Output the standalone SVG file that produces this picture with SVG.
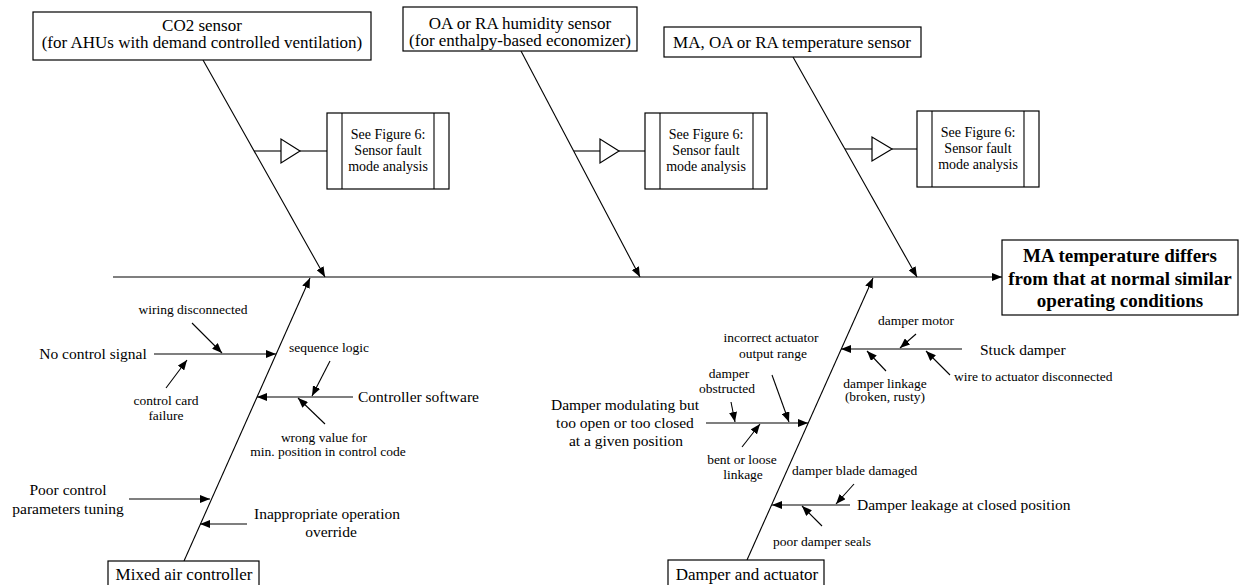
<svg xmlns="http://www.w3.org/2000/svg" width="1241" height="585" viewBox="0 0 1241 585">
  <defs>
    <marker id="arr" markerUnits="userSpaceOnUse" markerWidth="11" markerHeight="8" refX="10" refY="4" orient="auto">
      <path d="M0,0 L10,4 L0,8 z" fill="#000"/>
    </marker>
    <style>
      .ln { stroke: #000; stroke-width: 1.1; fill: none; }
      .ar { stroke: #000; stroke-width: 1.1; fill: none; marker-end: url(#arr); }
      .box { fill: #fff; stroke: #000; stroke-width: 1.2; }
      text { font-family: 'Liberation Serif', 'Times New Roman', serif; fill: #000; text-anchor: middle; }
      .big { font-size: 17px; }
      .mid { font-size: 15.5px; }
      .sm { font-size: 13.5px; }
      .ref { font-size: 14px; }
      .eff { font-size: 19px; font-weight: bold; }
      .lft { text-anchor: start; }
    </style>
  </defs>
  <rect width="1241" height="585" fill="#fff"/>

  <!-- spine, bones and cause arrows -->
  <g id="connectors">
    <line class="ar" x1="113" y1="277" x2="1002" y2="277"/>
    <!-- upper bones -->
    <line class="ar" x1="203" y1="60" x2="325" y2="277"/>
    <line class="ar" x1="521" y1="51" x2="640" y2="277"/>
    <line class="ar" x1="793" y1="57" x2="917" y2="277"/>
    <!-- lower bones -->
    <line class="ar" x1="184" y1="561" x2="310" y2="278"/>
    <line class="ar" x1="747" y1="560" x2="873" y2="278"/>

    <!-- sensor fault references -->
    <line class="ln" x1="254" y1="151" x2="281" y2="151"/>
    <polygon class="box" points="281,139 281,163 300,151"/>
    <line class="ln" x1="300" y1="151" x2="327" y2="151"/>
    <line class="ln" x1="574" y1="151" x2="600" y2="151"/>
    <polygon class="box" points="600,139 600,163 619,151"/>
    <line class="ln" x1="619" y1="151" x2="645" y2="151"/>
    <line class="ln" x1="845" y1="149" x2="872" y2="149"/>
    <polygon class="box" points="872,137 872,161 892,149"/>
    <line class="ln" x1="892" y1="149" x2="917" y2="149"/>

    <!-- mixed air controller causes -->
    <line class="ar" x1="154" y1="354" x2="276" y2="354"/>
    <line class="ar" x1="192" y1="323" x2="222" y2="353"/>
    <line class="ar" x1="166" y1="388" x2="187" y2="360"/>
    <line class="ar" x1="353" y1="397" x2="257" y2="397"/>
    <line class="ar" x1="330" y1="361" x2="312" y2="396"/>
    <line class="ar" x1="325" y1="424" x2="298" y2="398"/>
    <line class="ar" x1="129" y1="499" x2="210" y2="499"/>
    <line class="ar" x1="247" y1="524" x2="200" y2="524"/>

    <!-- damper and actuator causes -->
    <line class="ar" x1="962" y1="349" x2="841" y2="349"/>
    <line class="ar" x1="916" y1="334" x2="900" y2="348"/>
    <line class="ar" x1="886" y1="371" x2="867" y2="351"/>
    <line class="ar" x1="950" y1="375" x2="926" y2="351"/>
    <line class="ar" x1="706" y1="423" x2="808" y2="423"/>
    <line class="ar" x1="772" y1="375" x2="789" y2="422"/>
    <line class="ar" x1="731" y1="402" x2="735" y2="422"/>
    <line class="ar" x1="742" y1="447" x2="760" y2="424"/>
    <line class="ar" x1="850" y1="505" x2="772" y2="505"/>
    <line class="ar" x1="854" y1="484" x2="836" y2="504"/>
    <line class="ar" x1="822" y1="526" x2="802" y2="506"/>
  </g>

  <g id="co2-sensor">
    <rect class="box" x="33" y="12" width="338" height="48"/>
    <text class="big" x="202" y="31">CO2 sensor</text>
    <text class="big" x="202" y="48">(for AHUs with demand controlled ventilation)</text>
  </g>
  <g id="humidity-sensor">
    <rect class="box" x="403" y="7" width="234" height="44"/>
    <text class="big" x="520" y="29">OA or RA humidity sensor</text>
    <text class="big" x="520" y="46">(for enthalpy-based economizer)</text>
  </g>
  <g id="temperature-sensor">
    <rect class="box" x="664" y="27" width="257" height="30"/>
    <text class="big" x="792" y="48">MA, OA or RA temperature sensor</text>
  </g>

  <g id="sensor-ref-1">
    <rect class="box" x="327" y="113" width="122" height="76"/>
    <line class="ln" x1="342" y1="113" x2="342" y2="189"/>
    <line class="ln" x1="434" y1="113" x2="434" y2="189"/>
    <text class="ref" x="388" y="139">See Figure 6:</text>
    <text class="ref" x="388" y="155">Sensor fault</text>
    <text class="ref" x="388" y="171">mode analysis</text>
  </g>
  <g id="sensor-ref-2">
    <rect class="box" x="645" y="113" width="122" height="76"/>
    <line class="ln" x1="660" y1="113" x2="660" y2="189"/>
    <line class="ln" x1="753" y1="113" x2="753" y2="189"/>
    <text class="ref" x="706" y="139">See Figure 6:</text>
    <text class="ref" x="706" y="155">Sensor fault</text>
    <text class="ref" x="706" y="171">mode analysis</text>
  </g>
  <g id="sensor-ref-3">
    <rect class="box" x="917" y="111" width="122" height="76"/>
    <line class="ln" x1="932" y1="111" x2="932" y2="187"/>
    <line class="ln" x1="1024" y1="111" x2="1024" y2="187"/>
    <text class="ref" x="978" y="137">See Figure 6:</text>
    <text class="ref" x="978" y="153">Sensor fault</text>
    <text class="ref" x="978" y="169">mode analysis</text>
  </g>

  <g id="effect">
    <rect class="box" x="1002" y="240" width="236" height="75"/>
    <text class="eff" x="1120" y="262">MA temperature differs</text>
    <text class="eff" x="1120" y="285">from that at normal similar</text>
    <text class="eff" x="1120" y="307">operating conditions</text>
  </g>

  <g id="mixed-air-controller">
    <rect class="box" x="108" y="561" width="151" height="30"/>
    <text class="big" x="184" y="580">Mixed air controller</text>
  </g>
  <g id="mac-causes">
    <text class="mid" x="93" y="359">No control signal</text>
    <text class="sm" x="193" y="313.5">wiring disconnected</text>
    <text class="sm" x="166" y="404.5">control card</text>
    <text class="sm" x="166" y="420">failure</text>
    <text class="sm" x="329" y="351.5">sequence logic</text>
    <text class="mid lft" x="358" y="402">Controller software</text>
    <text class="sm" x="324" y="441.5">wrong value for</text>
    <text class="sm" x="328" y="455.5">min. position in control code</text>
    <text class="mid" x="68" y="495">Poor control</text>
    <text class="mid" x="68" y="514">parameters tuning</text>
    <text class="mid" x="327" y="519">Inappropriate operation</text>
    <text class="mid" x="331" y="537">override</text>
  </g>

  <g id="damper-and-actuator">
    <rect class="box" x="668" y="560" width="156" height="31"/>
    <text class="big" x="747" y="580">Damper and actuator</text>
  </g>
  <g id="damper-causes">
    <text class="mid lft" x="980" y="355">Stuck damper</text>
    <text class="sm" x="916" y="324.5">damper motor</text>
    <text class="sm" x="885" y="387.5">damper linkage</text>
    <text class="sm" x="885" y="401">(broken, rusty)</text>
    <text class="sm lft" x="954" y="380.5">wire to actuator disconnected</text>
    <text class="mid" x="625" y="410">Damper modulating but</text>
    <text class="mid" x="625" y="428">too open or too closed</text>
    <text class="mid" x="626" y="446">at a given position</text>
    <text class="sm" x="771" y="341.5">incorrect actuator</text>
    <text class="sm" x="773" y="357.5">output range</text>
    <text class="sm" x="729" y="377.5">damper</text>
    <text class="sm" x="727" y="392.5">obstructed</text>
    <text class="sm" x="742" y="463.5">bent or loose</text>
    <text class="sm" x="743" y="478.5">linkage</text>
    <text class="sm lft" x="792" y="474.5">damper blade damaged</text>
    <text class="mid lft" x="857" y="510">Damper leakage at closed position</text>
    <text class="sm" x="822" y="545.5">poor damper seals</text>
  </g>
</svg>
